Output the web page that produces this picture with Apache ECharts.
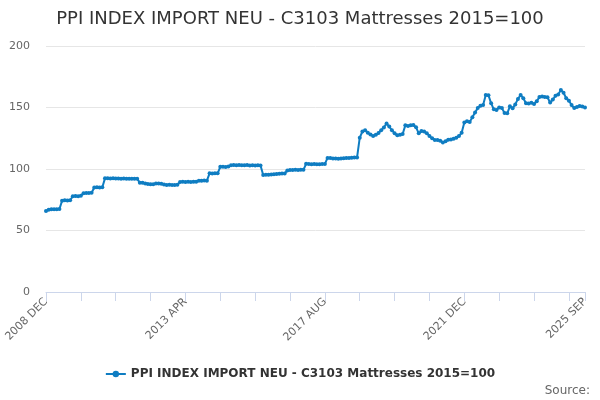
<!DOCTYPE html>
<html>
<head>
<meta charset="utf-8">
<script src="https://cdn.jsdelivr.net/npm/echarts@6/dist/echarts.min.js"></script>
<style>
  html, body { margin: 0; padding: 0; background: #fff; }
  #chart { width: 600px; height: 400px; }
</style>
</head>
<body>
<div id="chart"></div>
<script>
// monthly index, 2008 DEC .. 2025 SEP
var startYear = 2008, startMonth = 11, monthCount = 202;
var monthNames = ['JAN','FEB','MAR','APR','MAY','JUN','JUL','AUG','SEP','OCT','NOV','DEC'];
var months = [];
for (var k = 0; k < monthCount; k++) {
  var m = startMonth + k;
  months.push((startYear + Math.floor(m / 12)) + ' ' + monthNames[m % 12]);
}

var seriesName = 'PPI INDEX IMPORT NEU - C3103 Mattresses 2015=100';
var indexValues = [
  65.9, 66.8, 67.2, 67.3, 67.2, 67.4, 74.2, 74.5, 74.4, 74.6,
  77.8, 78.0, 77.9, 78.2, 80.3, 80.5, 80.4, 80.6, 85.0, 85.1,
  84.9, 85.2, 92.4, 92.5, 92.3, 92.4, 92.2, 92.3, 92.1, 92.2,
  92.0, 92.1, 92.0, 92.1, 92.0, 88.9, 88.8, 88.2, 87.8, 87.7,
  87.6, 88.3, 88.2, 88.1, 87.4, 87.0, 87.1, 86.9, 87.0, 87.2,
  89.5, 89.6, 89.4, 89.7, 89.5, 89.6, 89.7, 90.5, 90.4, 90.6,
  90.5, 96.5, 96.4, 96.6, 96.5, 101.8, 101.9, 101.7, 102.0, 103.0,
  103.2, 103.1, 103.2, 103.0, 103.1, 103.2, 102.9, 103.0, 102.9, 103.0,
  102.8, 95.2, 95.3, 95.4, 95.6, 95.8, 96.0, 96.2, 96.3, 96.4,
  98.8, 99.2, 99.1, 99.3, 99.2, 99.4, 99.3, 104.2, 104.1, 103.9,
  104.0, 103.8, 103.9, 104.0, 104.1, 109.0, 108.9, 108.6, 108.5, 108.4,
  108.6, 108.8, 108.9, 109.0, 109.2, 109.3, 109.4, 125.5, 130.5, 131.5,
  129.5, 128.0, 126.8, 127.8, 129.2, 131.5, 133.8, 137.0, 134.5, 131.5,
  129.0, 127.5, 127.8, 128.5, 135.5, 135.0, 135.5, 135.8, 133.9, 129.0,
  130.8, 130.5, 129.0, 126.8, 125.0, 123.6, 123.5, 123.0, 121.6, 122.5,
  123.8, 124.0, 124.5, 125.5, 126.8, 129.5, 137.8, 138.8, 138.2, 142.0,
  146.0, 149.5, 151.5, 152.0, 160.2, 160.0, 153.4, 148.5, 148.0, 150.0,
  149.5, 145.5, 145.3, 151.0, 149.3, 152.5, 157.0, 160.2, 157.5, 153.4,
  153.3, 153.9, 152.8, 155.0, 158.5, 159.0, 158.5, 158.3, 154.0, 156.5,
  159.5, 160.5, 164.2, 162.0, 157.5, 155.5, 152.0, 149.5, 150.5, 151.2,
  150.8, 150.0
];
var yTicks = [0, 50, 100, 150, 200];

var lastIndex = months.length - 1;
var chart = echarts.init(document.getElementById('chart'));
var option = {
  animation: false,
  textStyle: { fontFamily: 'DejaVu Sans' },
  title: {
    text: seriesName,
    left: 'center',
    top: 5,
    textStyle: { fontSize: 18, fontWeight: 'normal', color: '#333333' }
  },
  legend: {
    data: [seriesName],
    bottom: 15,
    left: 'center',
    itemWidth: 20,
    itemHeight: 8,
    textStyle: { fontSize: 12, fontWeight: 'bold', color: '#333333' }
  },
  graphic: [{
    type: 'text',
    right: 10,
    bottom: 3,
    style: { text: 'Source:', fontSize: 12, fill: '#666666', fontFamily: 'DejaVu Sans' }
  }],
  grid: { left: 46, right: 15, top: 46, bottom: 108 },
  xAxis: {
    type: 'category',
    data: months,
    boundaryGap: false,
    axisLine: { lineStyle: { color: '#ccd6eb' } },
    axisTick: {
      lineStyle: { color: '#ccd6eb' },
      length: 9,
      interval: function (i) { return i % 13 === 0 || i === lastIndex; }
    },
    axisLabel: {
      rotate: 45,
      color: '#666666',
      fontSize: 11,
      margin: 8,
      interval: function (i) { return i % 52 === 0 || i === lastIndex; }
    },
    splitLine: { show: false }
  },
  yAxis: {
    type: 'value',
    min: yTicks[0],
    max: yTicks[yTicks.length - 1],
    interval: 50,
    axisLine: { show: false },
    axisTick: { show: false },
    axisLabel: { color: '#666666', fontSize: 11, margin: 16 },
    splitLine: { lineStyle: { color: '#e6e6e6' } }
  },
  series: [{
    name: seriesName,
    type: 'line',
    data: indexValues,
    color: '#0f7dc2',
    lineStyle: { width: 2 },
    symbol: 'circle',
    symbolSize: 4,
    showAllSymbol: true
  }]
};
chart.setOption(option);
window.onresize = function () { chart.resize(); };
</script>
</body>
</html>
